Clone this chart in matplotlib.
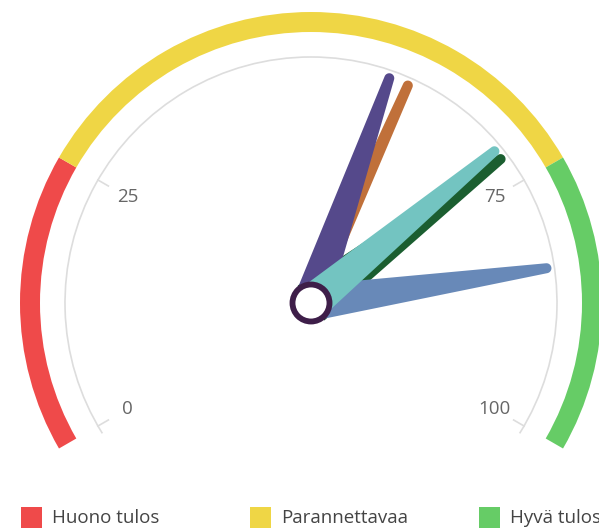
import numpy as np
import matplotlib
matplotlib.use('Agg')
import matplotlib.pyplot as plt
from matplotlib.patches import Wedge, Circle, Polygon, Arc, Rectangle

# gauge bands (value ranges) and legend labels
band_names = ['Huono tulos', 'Parannettavaa', 'Hyvä tulos']
band_from = [0, 25, 75]
band_to = [25, 75, 100]
band_colors = ['#ef4a4a', '#efd645', '#66cc66']

# dial values
dial_values = [72, 84, 60, 58, 71]
dial_colors = ['#1b5e30', '#6889b8', '#c0703a', '#55498b', '#73c4c1']
dial_base = [44, 36, 18, 36, 36]

tick_values = [0, 25, 75, 100]

W, H = 599, 531
cx, cy = 311, H - 303
start, end = -120, 120


def ang(v):
    # degrees clockwise from vertical
    return start + (end - start) * v / 100.0


def polar(v, r):
    a = np.radians(ang(v))
    return cx + r * np.sin(a), cy + r * np.cos(a)


fig = plt.figure(figsize=(W / 100, H / 100), dpi=100)
ax = fig.add_axes([0, 0, 1, 1])
ax.set_xlim(0, W)
ax.set_ylim(0, H)
ax.set_aspect('equal')
ax.axis('off')

# plot bands
for v1, v2, c in zip(band_from, band_to, band_colors):
    ax.add_patch(Wedge((cx, cy), 291, 90 - ang(v2), 90 - ang(v1), width=20,
                       color=c, lw=0))

# axis line and ticks
ax.add_patch(Arc((cx, cy), 492, 492, theta1=90 - end - 2, theta2=90 - start + 2,
                 color='#dddddd', lw=1.2))
for v in tick_values:
    x1, y1 = polar(v, 246)
    x2, y2 = polar(v, 234)
    ax.plot([x1, x2], [y1, y2], color='#dddddd', lw=1.2)
    tx, ty = polar(v, 212)
    ax.text(tx, ty, str(v), ha='center', va='center', fontsize=13.5,
            color='#666666', family='Open Sans', zorder=10)

# dials
L, tw = 238, 10
for v, c, bw in zip(dial_values, dial_colors, dial_base):
    a = np.radians(ang(v))
    d = np.array([np.sin(a), np.cos(a)])
    n = np.array([d[1], -d[0]])
    c0 = np.array([cx, cy])
    tip = c0 + d * L
    pts = [c0 + n * bw / 2, tip + n * tw / 2]
    th = np.linspace(0, np.pi, 20)
    for t in th:
        pts.append(tip + n * np.cos(t) * tw / 2 + d * np.sin(t) * tw / 2)
    pts.append(c0 - n * bw / 2)
    ax.add_patch(Polygon(pts, closed=True, color=c, lw=0))

# pivot
ax.add_patch(Circle((cx, cy), 18.5, facecolor='white', edgecolor='#3e1e49', lw=4.2,
                    zorder=5))

# legend
leg_x = [21, 250, 479]
for x, name, c in zip(leg_x, band_names, band_colors):
    ax.add_patch(Rectangle((x, H - 528), 21, 21, color=c, lw=0))
    ax.text(x + 31, H - 518, name, ha='left', va='center', fontsize=13.5,
            color='#444444', family='Open Sans')

fig.savefig('out.png', dpi=100)
